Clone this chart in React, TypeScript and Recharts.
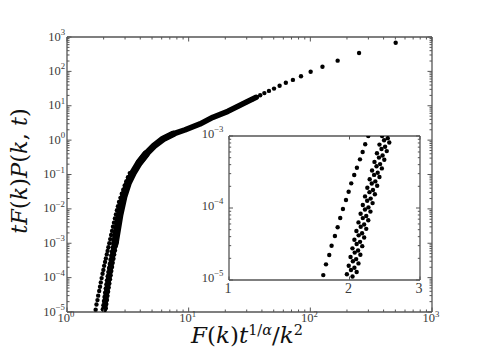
import React from 'react';
import { ScatterChart, Scatter, XAxis, YAxis } from 'recharts';

const FRAME = '#555';
const TXT = '#3a3a3a';
const SERIF = '"Liberation Serif", "DejaVu Serif", serif';
const TITLE = '"DejaVu Serif", "Liberation Serif", serif';

// ---------- data ----------
// long series: the sparse dots at large x
const longX = [503, 251.5, 167.7, 125.8, 100.6, 83.8, 71.9, 62.9, 55.9, 50.3, 45.7, 41.9, 38.7, 35.9, 33.5, 31.4, 29.6, 27.9, 26.5, 25.2, 24.0, 22.9, 21.9, 21.0];
const longY = [683, 343, 205, 137, 98, 72, 56.5, 46.5, 38, 31.5, 27.0, 23.3, 20.3, 17.6, 15.5, 13.9, 12.6, 11.4, 10.4, 9.5, 8.7, 8.0, 7.4, 6.9];

// dense collapsed band (solid run of overlapping points)
const bottomBandX = [2.03, 2.115, 2.205, 2.33, 2.48];
const bottomBandY = [1.2e-5, 3.6e-5, 1.0e-4, 3.3e-4, 1.0e-3];
const lowerBandX = [2.48, 2.71, 2.92, 3.18, 3.49, 3.91, 4.47];
const lowerBandY = [1e-3, 6.7e-3, 2.23e-2, 5.7e-2, 0.111, 0.217, 0.397];
const midBandX = [3.91, 4.47, 5.19, 6.15, 7.43];
const midBandY = [0.217, 0.397, 0.678, 1.08, 1.51];
const upperBandX = [6.15, 7.43, 9.33, 12.4, 15.8, 21.0, 25.2, 29.6, 35.9];
const upperBandY = [1.08, 1.51, 1.98, 2.96, 4.6, 6.9, 9.5, 12.6, 17.6];

// left, separated series
const leftX = [1.720, 1.747, 1.780, 1.804, 1.839, 1.868, 1.896, 1.926, 1.960, 1.990, 2.020, 2.055, 2.087, 2.124, 2.157, 2.189, 2.228,
  2.266, 2.305, 2.346, 2.388, 2.432, 2.477, 2.524, 2.573, 2.624, 2.677, 2.75, 2.82, 2.90, 2.98, 3.07, 3.17, 3.28];
const leftY = [1.17e-5, 1.65e-5, 2.22e-5, 2.99e-5, 4.08e-5, 5.40e-5, 7.26e-5, 9.68e-5, 1.29e-4, 1.68e-4, 2.20e-4, 2.87e-4, 3.63e-4, 4.74e-4, 6.0e-4, 7.67e-4, 1.0e-3,
  1.32e-3, 1.74e-3, 2.29e-3, 3.02e-3, 3.98e-3, 5.25e-3, 6.9e-3, 9.1e-3, 1.2e-2, 1.58e-2, 2.09e-2, 2.75e-2, 3.6e-2, 4.8e-2, 6.3e-2, 8.3e-2, 0.11];

// group of four neighbouring series
const g1X = [1.970, 1.991, 2.012, 2.034, 2.057, 2.081, 2.106, 2.132, 2.159, 2.187, 2.216, 2.246, 2.277, 2.309, 2.342, 2.376, 2.412];
const g1Y = [1.20e-5, 1.58e-5, 2.09e-5, 2.75e-5, 3.63e-5, 4.79e-5, 6.31e-5, 8.32e-5, 1.10e-4, 1.45e-4, 1.91e-4, 2.51e-4, 3.31e-4, 4.37e-4, 5.75e-4, 7.59e-4, 1.00e-3];
const g2X = [2.017, 2.039, 2.061, 2.084, 2.108, 2.133, 2.159, 2.186, 2.214, 2.243, 2.273, 2.304, 2.336, 2.369, 2.404, 2.440];
const g2Y = [1.38e-5, 1.82e-5, 2.40e-5, 3.16e-5, 4.17e-5, 5.50e-5, 7.24e-5, 9.55e-5, 1.26e-4, 1.66e-4, 2.19e-4, 2.88e-4, 3.80e-4, 5.01e-4, 6.61e-4, 8.71e-4];
const g3X = [2.035, 2.057, 2.078, 2.101, 2.125, 2.150, 2.176, 2.202, 2.230, 2.259, 2.289, 2.320, 2.352, 2.385, 2.419, 2.454, 2.492];
const g3Y = [1.12e-5, 1.48e-5, 1.95e-5, 2.57e-5, 3.39e-5, 4.47e-5, 5.89e-5, 7.76e-5, 1.02e-4, 1.35e-4, 1.78e-4, 2.34e-4, 3.09e-4, 4.07e-4, 5.37e-4, 7.08e-4, 9.33e-4];
const g4X = [2.084, 2.106, 2.129, 2.152, 2.176, 2.202, 2.228, 2.256, 2.284, 2.314, 2.345, 2.376, 2.409, 2.443, 2.478, 2.514, 2.552];
const g4Y = [1.29e-5, 1.70e-5, 2.24e-5, 2.95e-5, 3.89e-5, 5.13e-5, 6.76e-5, 8.91e-5, 1.17e-4, 1.55e-4, 2.04e-4, 2.69e-4, 3.55e-4, 4.68e-4, 6.17e-4, 8.13e-4, 1.07e-3];

// ticks
const mainXMajor = [1, 10, 100, 1000];
const mainXExp = ['0', '1', '2', '3'];
const mainYMajor = [1e-5, 1e-4, 1e-3, 1e-2, 1e-1, 1, 10, 100, 1000];
const mainYExp = ['\u22125', '\u22124', '\u22123', '\u22122', '\u22121', '0', '1', '2', '3'];
const insetXTicks = [1, 2, 3];
const insetXLabels = ['1', '2', '3'];
const insetYMajor = [1e-5, 1e-4, 1e-3];
const insetYExp = ['\u22125', '\u22124', '\u22123'];

// ---------- helpers ----------
const pts = (xs: number[], ys: number[]) => xs.map((x, i) => ({ x, y: ys[i] }));
const minors = (majors: number[]) => {
  const out: number[] = [];
  for (let i = 0; i < majors.length - 1; i++) for (let m = 2; m <= 9; m++) out.push(majors[i] * m);
  return out;
};
const isIn = (v: number, arr: number[]) => arr.findIndex((m) => Math.abs(m - v) / m < 1e-6);

const longPts = pts(longX, longY);
const bands = [
  { d: pts(bottomBandX, bottomBandY), w: 5 },
  { d: pts(lowerBandX, lowerBandY), w: 7.5 },
  { d: pts(midBandX, midBandY), w: 6.8 },
  { d: pts(upperBandX, upperBandY), w: 5.6 },
];
const leftPts = pts(leftX, leftY);
const groups = [pts(g1X, g1Y), pts(g2X, g2Y), pts(g3X, g3Y), pts(g4X, g4Y)];
const inInset = (p: { x: number; y: number }) => p.y <= 1.08e-3 && p.y >= 0.95e-5;

const Dot = (p: any) => (p.cx == null ? <g /> : <circle cx={p.cx} cy={p.cy} r={2.2} fill="#000" />);
const NoDot = () => <g />;

type Side = 'b' | 't' | 'l' | 'r';
const makeTick = (side: Side, majors: number[], majLen: number, minLen: number, label?: (i: number, x: number, y: number) => React.ReactNode) =>
  (props: any) => {
    const { x, y, payload } = props;
    const v = payload.value;
    const idx = isIn(v, majors);
    const len = idx >= 0 ? majLen : minLen;
    let ln;
    if (side === 'b') ln = <line x1={x} x2={x} y1={y} y2={y - len} />;
    else if (side === 't') ln = <line x1={x} x2={x} y1={y} y2={y + len} />;
    else if (side === 'l') ln = <line x1={x} x2={x + len} y1={y} y2={y} />;
    else ln = <line x1={x} x2={x - len} y1={y} y2={y} />;
    return (
      <g>
        <g stroke={FRAME} strokeWidth={1}>{ln}</g>
        {idx >= 0 && label ? label(idx, x, y) : null}
      </g>
    );
  };

const powLabel = (exp: string, x: number, y: number, anchor: 'middle' | 'end', size: number) => (
  <text x={x} y={y} textAnchor={anchor} fontFamily={SERIF} fontSize={size} fill={TXT}>
    <tspan>10</tspan>
    <tspan dy={-5.5} fontSize={size * 0.7}>{exp}</tspan>
  </text>
);

const mainXTicks = [...mainXMajor, ...minors(mainXMajor)];
const mainYTicks = [...mainYMajor, ...minors(mainYMajor)];
const insetYTicks = [...insetYMajor, ...minors(insetYMajor)];

const mainBottomTick = makeTick('b', mainXMajor, 4.5, 2.5, (i, x, y) => powLabel(mainXExp[i], x - 1, y + 10, 'middle', 12.5));
const mainTopTick = makeTick('t', mainXMajor, 4.5, 2.5);
const mainLeftTick = makeTick('l', mainYMajor, 4.5, 2.5, (i, x, y) => powLabel(mainYExp[i], x - 2, y + 3.5, 'end', 12.5));
const mainRightTick = makeTick('r', mainYMajor, 4.5, 2.5);

const insetBottomTick = makeTick('b', insetXTicks, 3.5, 3.5, (i, x, y) => (
  <text x={x - 1} y={y + 13} textAnchor="middle" fontFamily={SERIF} fontSize={14} fill={TXT}>{insetXLabels[i]}</text>
));
const insetTopTick = makeTick('t', insetXTicks, 3.5, 3.5);
const insetLeftTick = makeTick('l', insetYMajor, 4, 2.2, (i, x, y) => powLabel(insetYExp[i], x - 5.5, y + 1.5, 'end', 12.5));
const insetRightTick = makeTick('r', insetYMajor, 4, 2.2);

const axisLine = { stroke: FRAME, strokeWidth: 1.3 };

export default function App() {
  return (
    <div style={{ position: 'absolute', left: 0, top: 0, width: 481, height: 361, background: '#fff' }}>
      <div style={{ position: 'absolute', left: 0, top: 0 }}>
        <ScatterChart width={481} height={361} margin={{ top: 36, right: 48, bottom: 0, left: 0 }}>
          <XAxis xAxisId="b" dataKey="x" type="number" scale="log" domain={[1, 1000]} allowDataOverflow ticks={mainXTicks} interval={0}
            tickLine={false} tickSize={0} tickMargin={0} axisLine={axisLine} tick={mainBottomTick} height={49} />
          <XAxis xAxisId="t" orientation="top" dataKey="x" type="number" scale="log" domain={[1, 1000]} allowDataOverflow ticks={mainXTicks} interval={0}
            tickLine={false} tickSize={0} tickMargin={0} axisLine={axisLine} tick={mainTopTick} height={1} />
          <YAxis yAxisId="l" dataKey="y" type="number" scale="log" domain={[1e-5, 1000]} allowDataOverflow ticks={mainYTicks} interval={0}
            tickLine={false} tickSize={0} tickMargin={0} axisLine={axisLine} tick={mainLeftTick} width={67} />
          <YAxis yAxisId="r" orientation="right" dataKey="y" type="number" scale="log" domain={[1e-5, 1000]} allowDataOverflow ticks={mainYTicks} interval={0}
            tickLine={false} tickSize={0} tickMargin={0} axisLine={axisLine} tick={mainRightTick} width={1} />
          {bands.map((b, i) => (
            <Scatter key={'b' + i} xAxisId="b" yAxisId="l" data={b.d} shape={NoDot} isAnimationActive={false}
              line={{ stroke: '#000', strokeWidth: b.w, strokeLinecap: 'round', strokeLinejoin: 'round' }} />
          ))}
          <Scatter xAxisId="b" yAxisId="l" data={longPts} shape={Dot} isAnimationActive={false} />
          <Scatter xAxisId="b" yAxisId="l" data={leftPts} shape={Dot} isAnimationActive={false} />
          {groups.map((g, i) => (
            <Scatter key={i} xAxisId="b" yAxisId="l" data={g} shape={Dot} isAnimationActive={false} />
          ))}
        </ScatterChart>
      </div>

      <div style={{ position: 'absolute', left: 180, top: 120 }}>
        <ScatterChart width={260} height={190} margin={{ top: 15, right: 19, bottom: 0, left: 0 }}>
          <XAxis xAxisId="b" dataKey="x" type="number" scale="log" domain={[1, 3]} allowDataOverflow ticks={insetXTicks} interval={0}
            tickLine={false} tickSize={0} tickMargin={0} axisLine={axisLine} tick={insetBottomTick} height={30} />
          <XAxis xAxisId="t" orientation="top" dataKey="x" type="number" scale="log" domain={[1, 3]} allowDataOverflow ticks={insetXTicks} interval={0}
            tickLine={false} tickSize={0} tickMargin={0} axisLine={axisLine} tick={insetTopTick} height={1} />
          <YAxis yAxisId="l" dataKey="y" type="number" scale="log" domain={[1e-5, 1e-3]} allowDataOverflow ticks={insetYTicks} interval={0}
            tickLine={false} tickSize={0} tickMargin={0} axisLine={axisLine} tick={insetLeftTick} width={49} />
          <YAxis yAxisId="r" orientation="right" dataKey="y" type="number" scale="log" domain={[1e-5, 1e-3]} allowDataOverflow ticks={insetYTicks} interval={0}
            tickLine={false} tickSize={0} tickMargin={0} axisLine={axisLine} tick={insetRightTick} width={1} />
          <Scatter xAxisId="b" yAxisId="l" data={leftPts.filter(inInset)} shape={Dot} isAnimationActive={false} />
          {groups.map((g, i) => (
            <Scatter key={i} xAxisId="b" yAxisId="l" data={g.filter(inInset)} shape={Dot} isAnimationActive={false} />
          ))}
        </ScatterChart>
      </div>

      <svg width={481} height={361} style={{ position: 'absolute', left: 0, top: 0, pointerEvents: 'none' }}>
        <text x={27} y={171} transform="rotate(-90 27 171)" textAnchor="middle" fontFamily={TITLE} fontSize={22.5} fill="#111">
          <tspan fontStyle="italic">tF</tspan><tspan>(</tspan><tspan fontStyle="italic">k</tspan><tspan>)</tspan>
          <tspan fontStyle="italic">P</tspan><tspan>(</tspan><tspan fontStyle="italic">k</tspan><tspan>, </tspan>
          <tspan fontStyle="italic">t</tspan><tspan>)</tspan>
        </text>
        <text x={247} y={343} textAnchor="middle" fontFamily={TITLE} fontSize={23} fill="#111">
          <tspan fontStyle="italic">F</tspan><tspan>(</tspan><tspan fontStyle="italic">k</tspan><tspan>)</tspan>
          <tspan fontStyle="italic">t</tspan>
          <tspan dy={-8.5} fontSize={14.5}>1/</tspan><tspan fontSize={14.5} fontStyle="italic">α</tspan>
          <tspan dy={8.5}>/</tspan><tspan fontStyle="italic">k</tspan>
          <tspan dy={-8.5} fontSize={14.5}>2</tspan>
        </text>
      </svg>
    </div>
  );
}
